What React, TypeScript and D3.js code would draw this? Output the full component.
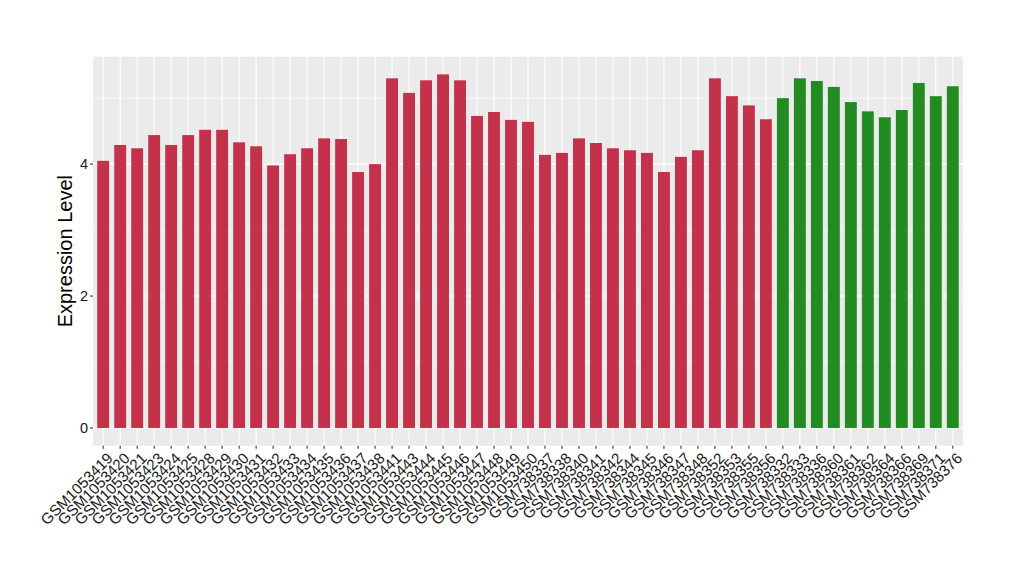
import React from "react";
import * as d3 from "d3";

const samples: string[] = [
  "GSM1053419","GSM1053420","GSM1053421","GSM1053423","GSM1053424","GSM1053425","GSM1053428","GSM1053429","GSM1053430","GSM1053431",
  "GSM1053432","GSM1053433","GSM1053434","GSM1053435","GSM1053436","GSM1053437","GSM1053438","GSM1053441","GSM1053443","GSM1053444",
  "GSM1053445","GSM1053446","GSM1053447","GSM1053448","GSM1053449","GSM1053450",
  "GSM738337","GSM738338","GSM738340","GSM738341","GSM738342","GSM738344","GSM738345","GSM738346","GSM738347","GSM738348",
  "GSM738352","GSM738353","GSM738355","GSM738356",
  "GSM738332","GSM738333","GSM738336","GSM738360","GSM738361","GSM738362","GSM738364","GSM738366","GSM738369","GSM738371","GSM738376",
];

const values: number[] = [
  4.05, 4.29, 4.24, 4.44, 4.29, 4.44, 4.52, 4.52, 4.33, 4.27,
  3.98, 4.15, 4.24, 4.39, 4.38, 3.88, 4.0, 5.3, 5.08, 5.27,
  5.36, 5.27, 4.73, 4.79, 4.67, 4.64,
  4.14, 4.17, 4.39, 4.32, 4.24, 4.21, 4.17, 3.88, 4.11, 4.21,
  5.3, 5.03, 4.89, 4.68,
  5.0, 5.3, 5.26, 5.17, 4.94, 4.8, 4.71, 4.82, 5.23, 5.03, 5.18,
];

const groups: string[] = [
  ...Array(40).fill("A"),
  ...Array(11).fill("B"),
];

const groupColors: Record<string, string> = { A: "#C3314A", B: "#228B22" };
const yTicks: number[] = [0, 2, 4];
const yMinor: number[] = [1, 3, 5];

export default function App() {
  const W = 1020, H = 580;
  const left = 93, right = 963, top = 56.7, bottom = 445.7;
  const maxV = d3.max(values) as number;
  const pad = maxV * 0.05;
  const y = d3.scaleLinear().domain([-pad, maxV + pad]).range([bottom, top]);
  const n = samples.length;
  const step = (right - left) / (n - 1 + 1.2);
  const x = (i: number) => left + step * (0.6 + i);
  const bw = step * 0.7;
  const font = "Liberation Sans, Arial, Helvetica, sans-serif";

  return (
    <svg width={W} height={H} style={{ position: "absolute", left: 0, top: 0 }} fontFamily={font}>
      <rect x={0} y={0} width={W} height={H} fill="#fff" />
      <rect x={left} y={top} width={right - left} height={bottom - top} fill="#EBEBEB" />
      {yMinor.map((t) => (
        <line key={"mn" + t} x1={left} x2={right} y1={y(t)} y2={y(t)} stroke="#fff" strokeWidth={0.55} />
      ))}
      {yTicks.map((t) => (
        <line key={"mj" + t} x1={left} x2={right} y1={y(t)} y2={y(t)} stroke="#fff" strokeWidth={1.1} />
      ))}
      {samples.map((s, i) => (
        <line key={"vg" + s} x1={x(i)} x2={x(i)} y1={top} y2={bottom} stroke="#fff" strokeWidth={1.1} />
      ))}
      {values.map((v, i) => (
        <rect
          key={"b" + i}
          x={x(i) - bw / 2}
          y={y(v)}
          width={bw}
          height={y(0) - y(v)}
          fill={groupColors[groups[i]]}
        />
      ))}
      {yTicks.map((t) => (
        <g key={"yt" + t}>
          <line x1={left - 3} x2={left} y1={y(t)} y2={y(t)} stroke="#333" strokeWidth={1.1} />
          <text x={left - 5} y={y(t)} dy="0.35em" textAnchor="end" fontSize={14.5} fill="#1a1a1a">
            {t}
          </text>
        </g>
      ))}
      {samples.map((s, i) => (
        <g key={"xt" + s}>
          <line x1={x(i)} x2={x(i)} y1={bottom} y2={bottom + 3} stroke="#333" strokeWidth={1.1} />
          <text
            transform={`translate(${x(i) + 3},${bottom + 6}) rotate(-45)`}
            textAnchor="end"
            dy="0.7em"
            fontSize={15.3}
            fill="#1a1a1a"
          >
            {s}
          </text>
        </g>
      ))}
      <text
        transform={`translate(72,${(top + bottom) / 2}) rotate(-90)`}
        textAnchor="middle"
        fontSize={20}
        fill="#000"
      >
        Expression Level
      </text>
    </svg>
  );
}
